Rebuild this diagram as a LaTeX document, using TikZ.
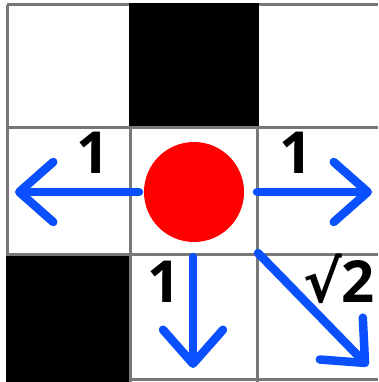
\documentclass[tikz,border=0pt]{standalone}
\usepackage{fontspec}
\setmainfont{Open Sans}
\newfontfamily\symbolfont{DejaVu Sans}
\usepackage{tikz}
\usetikzlibrary{arrows.meta}

\definecolor{moveblue}{RGB}{10,80,255}
\definecolor{gridgray}{RGB}{120,120,120}

\begin{document}
\begin{tikzpicture}[
    x=1pt, y=-1pt,
    wall/.style={fill=black},
    gridline/.style={draw=gridgray, line width=3pt},
    agentdot/.style={circle, fill=red, minimum size=100pt, inner sep=0pt},
    move/.style={draw=moveblue, line width=8.5pt, line cap=round, -{Straight Barb[length=34pt, width=60pt, round]}},
    cost/.style={font=\fontsize{58}{68}\selectfont\bfseries, inner sep=0pt, anchor=base}
]
\useasboundingbox[fill=white] (0,0) rectangle (378,382);

% Grid
\foreach \gx in {7,130,257}
    \draw[gridline] (\gx,5) -- (\gx,382);
\foreach \gy in {5,128,254,379}
    \draw[gridline] (7,\gy) -- (378,\gy);

% Blocked cells
\fill[wall] (128.5,3.5) rectangle (258.5,126.5);
\fill[wall] (5.5,255.5) rectangle (128.5,382);

% Agent
\node[agentdot] (agent) at (194,192) {};

% Move ends
\coordinate (wstart) at (139,192);
\coordinate (wtip) at (15,192);
\coordinate (estart) at (257,192);
\coordinate (etip) at (372,192);
\coordinate (sstart) at (193,257);
\coordinate (stip) at (193,368);
\coordinate (sestart) at (258,253);
\coordinate (setip) at (368,366);

% Moves
\draw[move] (wstart) -- (wtip);
\draw[move] (estart) -- (etip);
\draw[move] (sstart) -- (stip);
\draw[move] (sestart) -- (setip);

% Costs
\node[cost] (wcost) at (93,173) {1};
\node[cost] (ecost) at (296,173) {1};
\node[cost] (scost) at (164,302) {1};
\node[cost] (secost) at (339,302) {{\symbolfont √}2};

\end{tikzpicture}
\end{document}
